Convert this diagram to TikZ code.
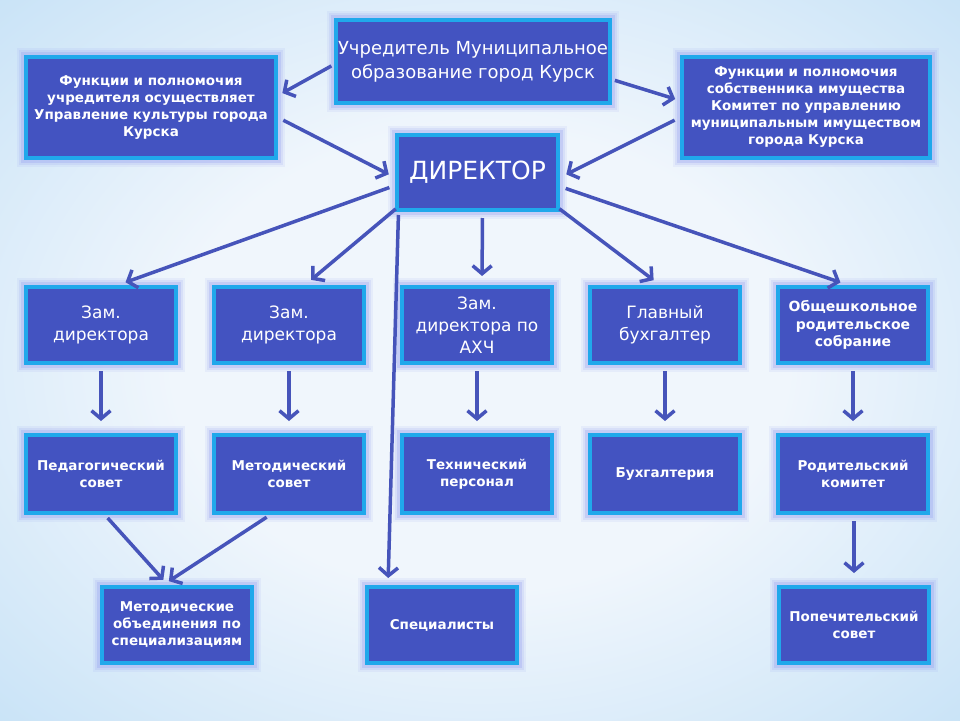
\documentclass[tikz,border=0pt]{standalone}
\usepackage{fontspec}
\setmainfont{DejaVu Sans}
\usetikzlibrary{arrows.meta}
\definecolor{boxfill}{RGB}{67,83,193}
\definecolor{boxline}{RGB}{32,168,235}
\definecolor{glowc}{RGB}{140,150,240}
\definecolor{arrc}{RGB}{70,84,186}
\definecolor{bgin}{RGB}{240,246,252}
\definecolor{bgout}{RGB}{145,200,240}
\pgfdeclareradialshading{bgshade}{\pgfpoint{0bp}{0bp}}{color(0bp)=(bgin); color(16bp)=(bgin); color(40bp)=(bgin!50!bgout); color(60bp)=(bgout)}
\tikzset{
  box/.style={draw=boxline, line width=4pt, fill=boxfill, text=white, align=center, inner sep=2pt,
    preaction={draw=glowc, line width=18pt, draw opacity=0.10},
    preaction={draw=glowc, line width=14pt, draw opacity=0.15},
    preaction={draw=glowc, line width=10pt, draw opacity=0.25}},
  sb/.style={font=\fontsize{13.5}{17}\bfseries\selectfont},
  mid/.style={font=\fontsize{17}{22}\selectfont},
  rowbox/.style={box, minimum width=150, minimum height=76},
  arr/.style={draw=arrc, line width=3.5pt, -{Straight Barb[length=8pt,width=19pt]}},
}
\begin{document}
\begin{tikzpicture}[x=1pt,y=-1pt]
\useasboundingbox (0,0) rectangle (960,720);
\shade[shading=bgshade] (0,0) rectangle (960,720);

% top
\node[box, minimum width=274, minimum height=83, font=\fontsize{18}{24}\selectfont] (U) at (473,61.5) {Учредитель Муниципальное\\образование город Курск};
\node[box, sb, minimum width=250, minimum height=101] (L) at (151,107.5) {Функции и полномочия\\учредителя осуществляет\\Управление культуры города\\Курска};
\node[box, sb, minimum width=248, minimum height=101] (R) at (806,107.5) {Функции и полномочия\\собственника имущества\\Комитет по управлению\\муниципальным имуществом\\города Курска};
\node[box, minimum width=161, minimum height=75, font=\fontsize{25}{30}\selectfont] (D) at (477.5,172.5) {ДИРЕКТОР};

% row 2
\node[rowbox, mid] (B1) at (101,325) {Зам.\\директора};
\node[rowbox, mid] (B2) at (289,325) {Зам.\\директора};
\node[rowbox, mid] (B3) at (477,325) {Зам.\\директора по\\АХЧ};
\node[rowbox, mid] (B4) at (665,325) {Главный\\бухгалтер};
\node[rowbox, font=\fontsize{14}{17.5}\bfseries\selectfont] (B5) at (853,325) {Общешкольное\\родительское\\собрание};

% row 3
\node[rowbox, sb, minimum height=78] (C1) at (101,474) {Педагогический\\совет};
\node[rowbox, sb, minimum height=78] (C2) at (289,474) {Методический\\совет};
\node[rowbox, sb, minimum height=78] (C3) at (477,474) {Технический\\персонал};
\node[rowbox, sb, minimum height=78] (C4) at (665,474) {Бухгалтерия};
\node[rowbox, sb, minimum height=78] (C5) at (853,474) {Родительский\\комитет};

% row 4
\node[rowbox, sb] (E1) at (177,625) {Методические\\объединения по\\специализациям};
\node[rowbox, sb] (E2) at (442,625) {Специалисты};
\node[rowbox, sb] (E3) at (854,625) {Попечительский\\совет};

% arrows top
\draw[arr, shorten <=3pt, shorten >=5pt] ([yshift=-3pt]U.west) -- ([yshift=12pt]L.east);
\draw[arr, shorten <=3pt, shorten >=5pt] ([yshift=-18pt]U.east) -- ([yshift=7pt]R.west);
\draw[arr, shorten <=6pt, shorten >=7pt] ([yshift=-10pt]L.east) -- ([yshift=-5pt]D.west);
\draw[arr, shorten <=6pt, shorten >=7pt] ([yshift=-10pt]R.west) -- ([yshift=-5pt]D.east);

% director to row 2
\draw[arr, shorten <=6pt, shorten >=8pt] ([yshift=-13pt]D.west) -- ([xshift=17pt]B1.north);
\draw[arr, shorten <=3pt, shorten >=8pt] ([xshift=3pt,yshift=5pt]D.south west) -- ([xshift=16pt]B2.north);
\draw[arr, shorten <=6pt, shorten >=9pt] ([xshift=5pt]D.south) -- ([xshift=5pt]B3.north);
\draw[arr, shorten <=3pt, shorten >=8pt] ([xshift=-3pt,yshift=5pt]D.south east) -- ([xshift=-5pt]B4.north);
\draw[arr, shorten <=6pt, shorten >=8pt] ([yshift=-14pt]D.east) -- ([xshift=-5pt]B5.north);
\draw[arr, shorten <=3pt, shorten >=7pt] ([xshift=-79pt]D.south) -- ([xshift=-54pt]E2.north);

% row 2 to row 3
\foreach \i in {1,...,5}{
  \draw[arr, shorten <=6pt, shorten >=12pt] (B\i.south) -- (C\i.north);
}

% row 3 to row 4
\draw[arr, shorten <=4pt, shorten >=7pt] ([xshift=4pt]C1.south) -- ([xshift=-9pt]E1.north);
\draw[arr, shorten <=4pt, shorten >=7pt] ([xshift=-19pt]C2.south) -- ([xshift=-14pt]E1.north);
\draw[arr, shorten <=6pt, shorten >=12pt] ([xshift=1pt]C5.south) -- ([xshift=0pt]E3.north);
\end{tikzpicture}
\end{document}
